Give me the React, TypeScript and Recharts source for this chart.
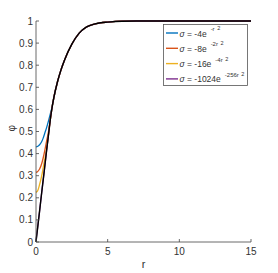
import React from 'react';
import { LineChart, Line, XAxis, YAxis, Legend } from 'recharts';

const rValues = [0, 0.1, 0.25, 0.4, 0.5, 0.6, 0.75, 0.9, 1, 1.1, 1.25, 1.5, 1.75, 2, 2.5, 3, 3.5, 4, 4.5, 5, 6, 7, 8, 10, 12, 15];
const exactPhi = [0, 0.056, 0.14, 0.225, 0.28, 0.335, 0.42, 0.5, 0.555, 0.6, 0.655, 0.725, 0.78, 0.825, 0.895, 0.944, 0.972, 0.985, 0.992, 0.995, 0.999, 1, 1, 1, 1, 1];
const sigma4 = [0.43, 0.432, 0.44, 0.455, 0.47, 0.49, 0.52, 0.555, 0.58, 0.605, 0.655, 0.725, 0.78, 0.825, 0.895, 0.944, 0.972, 0.985, 0.992, 0.995, 0.999, 1, 1, 1, 1, 1];
const sigma8 = [0.315, 0.318, 0.33, 0.355, 0.38, 0.41, 0.46, 0.51, 0.555, 0.6, 0.655, 0.725, 0.78, 0.825, 0.895, 0.944, 0.972, 0.985, 0.992, 0.995, 0.999, 1, 1, 1, 1, 1];
const sigma16 = [0.225, 0.23, 0.26, 0.3, 0.335, 0.37, 0.425, 0.5, 0.555, 0.6, 0.655, 0.725, 0.78, 0.825, 0.895, 0.944, 0.972, 0.985, 0.992, 0.995, 0.999, 1, 1, 1, 1, 1];
const sigma1024 = [0.005, 0.058, 0.14, 0.225, 0.28, 0.335, 0.42, 0.5, 0.555, 0.6, 0.655, 0.725, 0.78, 0.825, 0.895, 0.944, 0.972, 0.985, 0.992, 0.995, 0.999, 1, 1, 1, 1, 1];

const xTicks = [0, 5, 10, 15];
const yTicks = [0, 0.1, 0.2, 0.3, 0.4, 0.5, 0.6, 0.7, 0.8, 0.9, 1];

const legendItems = [
  { color: '#0072BD', coef: '-4e', exp: '-r', },
  { color: '#D95319', coef: '-8e', exp: '-2r' },
  { color: '#EDB120', coef: '-16e', exp: '-4r' },
  { color: '#7E2F8E', coef: '-1024e', exp: '-256r' },
];

const data = rValues.map((r, i) => ({
  r,
  s4: sigma4[i],
  s8: sigma8[i],
  s16: sigma16[i],
  s1024: sigma1024[i],
  exact: exactPhi[i],
}));

const FONT = 'Liberation Sans, Arial, sans-serif';
const TXT = '#333333';

const LegendBox = () => (
  <svg width={85} height={62} style={{ display: 'block' }}>
    <rect x={0.5} y={0.5} width={84} height={61} fill="#fff" stroke="#555" strokeWidth={0.8} />
    {legendItems.map((it, i) => {
      const y = 9 + i * 15.3;
      return (
        <g key={i}>
          <line x1={3} x2={15} y1={y} y2={y} stroke={it.color} strokeWidth={1.4} />
          <text x={16.5} y={y + 3.5} fontFamily={FONT} fontSize={8.5} fill={TXT}>
            <tspan fontStyle="italic">σ</tspan>
            <tspan> = {it.coef}</tspan>
            <tspan dx={4} dy={-5.5} fontSize={6}>{it.exp}</tspan>
            <tspan dx={2.5} dy={-1} fontSize={5.5}>2</tspan>
          </text>
        </g>
      );
    })}
  </svg>
);

export default function App() {
  return (
    <div style={{ position: 'absolute', left: 0, top: 0, background: '#fff' }}>
      <LineChart width={278} height={273} data={data} margin={{ top: 21, right: 27, bottom: 0, left: 0 }}>
        <XAxis
          dataKey="r"
          type="number"
          domain={[0, 15]}
          ticks={xTicks}
          height={31}
          tickSize={-3}
          tickMargin={9}
          stroke="#444"
          strokeWidth={0.8}
          tick={{ fontSize: 10, fill: TXT, fontFamily: FONT }}
          label={{ value: 'r', position: 'insideBottom', offset: 5, fontSize: 11, fill: TXT, fontFamily: FONT }}
        />
        <XAxis
          xAxisId="top"
          orientation="top"
          dataKey="r"
          type="number"
          domain={[0, 15]}
          ticks={xTicks}
          height={0}
          tickSize={-3}
          tick={false}
          stroke="#444"
          strokeWidth={0.8}
        />
        <YAxis
          type="number"
          domain={[0, 1]}
          ticks={yTicks}
          width={36}
          tickSize={-3}
          tickMargin={6}
          interval={0}
          stroke="#444"
          strokeWidth={0.8}
          tickFormatter={(v: number) => String(Math.round(v * 10) / 10)}
          tick={{ fontSize: 10, fill: TXT, fontFamily: FONT }}
          label={{ value: 'φ', angle: -90, position: 'insideLeft', offset: 11, fontSize: 10, fill: TXT, fontFamily: FONT }}
        />
        <YAxis
          yAxisId="right"
          orientation="right"
          type="number"
          domain={[0, 1]}
          ticks={yTicks}
          width={0}
          tickSize={-3}
          interval={0}
          tick={false}
          stroke="#444"
          strokeWidth={0.8}
        />
        <Line dataKey="s4" type="monotone" stroke="#0072BD" strokeWidth={1.3} dot={false} isAnimationActive={false} />
        <Line dataKey="s8" type="monotone" stroke="#D95319" strokeWidth={1.3} dot={false} isAnimationActive={false} />
        <Line dataKey="s16" type="monotone" stroke="#EDB120" strokeWidth={1.3} dot={false} isAnimationActive={false} />
        <Line dataKey="s1024" type="monotone" stroke="#7E2F8E" strokeWidth={1.3} dot={false} isAnimationActive={false} />
        <Line dataKey="exact" type="monotone" stroke="#000000" strokeWidth={1.4} dot={false} isAnimationActive={false} />
        <Legend
          layout="vertical"
          align="center"
          verticalAlign="middle"
          wrapperStyle={{ left: 163, top: 24, width: 85, height: 62 }}
          content={() => <LegendBox />}
        />
      </LineChart>
    </div>
  );
}
